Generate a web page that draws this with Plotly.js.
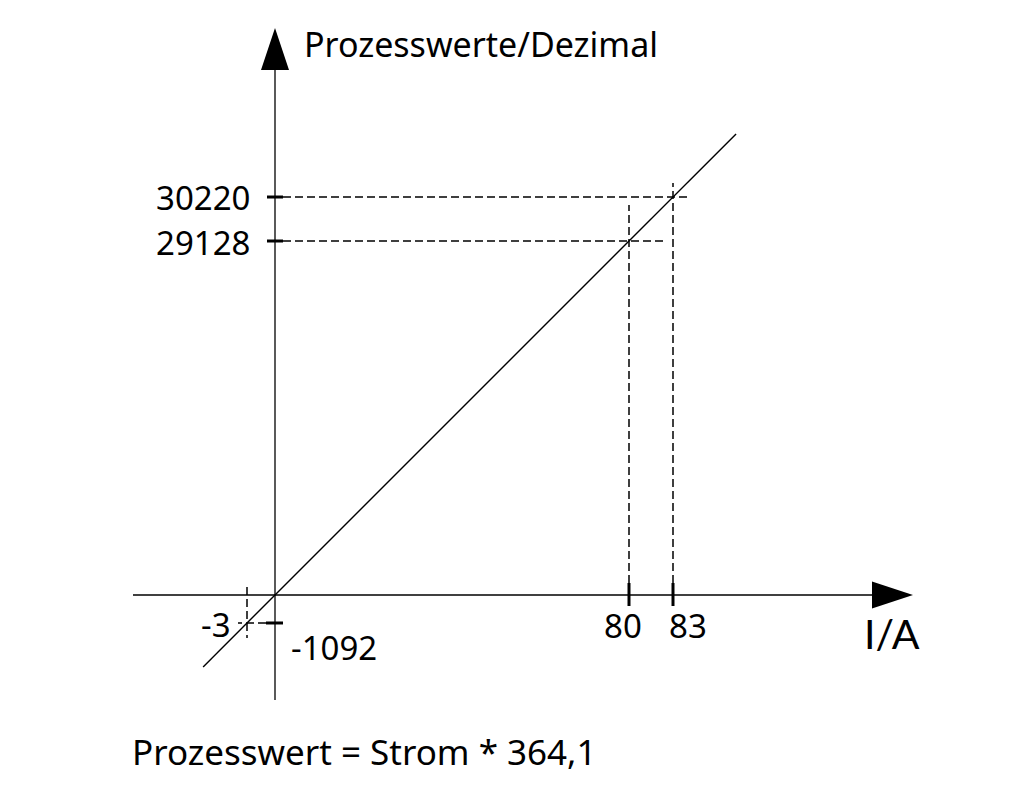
<!DOCTYPE html>
<html>
<head>
<meta charset="utf-8">
<script src="https://cdn.plot.ly/plotly-3.0.1.min.js"></script>
<style>
  html, body { margin: 0; padding: 0; background: #fff; }
  #chart { width: 1031px; height: 793px; }
</style>
</head>
<body>
<div id="chart"></div>
<script>
// ---- data ----
const strom = [-3, 80, 83];                 // current I in A
const prozesswert = [-1092, 29128, 30220];  // process values (decimal)
const faktor = 364.1;                       // Prozesswert = Strom * 364,1
const lineStrom = [-7.7, 87.3];             // extent of the drawn characteristic line (A)
const lineWert = [-2804, 31786];            // corresponding process values
const xTitle = 'I/A';
const yTitle = 'Prozesswerte/Dezimal';

// ---- schematic (not to scale) axis: piecewise linear, as in the original diagram ----
const scaleBreaks = [-3, 0, 80, 83];
const scaleUnits  = [-28, 0, 354, 398];
function S(a) {
  const b = scaleBreaks, u = scaleUnits, n = b.length;
  let i = 0;
  if (a <= b[0]) i = 0;
  else if (a >= b[n - 1]) i = n - 2;
  else { while (a > b[i + 1]) i++; }
  return u[i] + (a - b[i]) * (u[i + 1] - u[i]) / (b[i + 1] - b[i]);
}
const X = a => S(a);              // current -> diagram x
const Y = v => S(v / faktor);     // process value -> diagram y (same schematic scale)

const FONT = '"Noto Sans", "Open Sans", sans-serif';
const black = '#000';
const shapes = [];
const annotations = [];

// axes with arrows
shapes.push({type: 'line', xref: 'x', yref: 'y', x0: -142, x1: 598, y0: 0, y1: 0, line: {color: black, width: 1.3}});
shapes.push({type: 'path', xref: 'x', yref: 'y', path: 'M 597 13.5 L 638 0 L 597 -13.5 Z', fillcolor: black, line: {width: 0}});
shapes.push({type: 'line', xref: 'x', yref: 'y', x0: 0, x1: 0, y0: -105, y1: 526, line: {color: black, width: 1.3}});
shapes.push({type: 'path', xref: 'x', yref: 'y', path: 'M -14 525 L 0 567 L 14 525 Z', fillcolor: black, line: {width: 0}});

const dash = {color: black, width: 1.5, dash: '8px,4px'};
const tickLine = {color: black, width: 3};
const over = [0, 38, 14];   // how far dashed guides run past the crossing
strom.forEach((a, k) => {
  const xv = X(a), yv = Y(prozesswert[k]);
  if (a > 0) {
    shapes.push({type: 'line', xref: 'x', yref: 'y', x0: xv, x1: xv, y0: -11, y1: 12, line: tickLine});
    shapes.push({type: 'line', xref: 'x', yref: 'y', x0: -8, x1: 8, y0: yv, y1: yv, line: tickLine});
    shapes.push({type: 'line', xref: 'x', yref: 'y', x0: xv, x1: xv, y0: 12, y1: yv + over[k] - (k === 1 ? 2 : 0), line: dash});
    shapes.push({type: 'line', xref: 'x', yref: 'y', x0: 8, x1: xv + over[k], y0: yv, y1: yv, line: dash});
  } else {
    shapes.push({type: 'line', xref: 'x', yref: 'y', x0: -9, x1: 8, y0: yv, y1: yv, line: tickLine});
    shapes.push({type: 'line', xref: 'x', yref: 'y', x0: xv, x1: xv, y0: 8, y1: yv - 15, line: dash});
    shapes.push({type: 'line', xref: 'x', yref: 'y', x0: -9, x1: xv - 9, y0: yv, y1: yv, line: dash});
  }
});

const fmt = v => String(v);
const tf = {family: FONT, size: 33, color: black};
strom.forEach((a, k) => {
  const xv = X(a), yv = Y(prozesswert[k]);
  if (a > 0) {
    annotations.push({x: xv, y: 0, xref: 'x', yref: 'y', text: fmt(a), showarrow: false,
      xanchor: 'center', yanchor: 'middle', xshift: k === 1 ? -6 : 15, yshift: -30, font: tf});
    annotations.push({x: 0, y: yv, xref: 'x', yref: 'y', text: fmt(prozesswert[k]), showarrow: false,
      xanchor: 'right', yanchor: 'middle', xshift: -23, yshift: k === 2 ? 0 : -1, font: tf});
  } else {
    annotations.push({x: xv, y: yv, xref: 'x', yref: 'y', text: fmt(a), showarrow: false,
      xanchor: 'right', yanchor: 'middle', xshift: -14, yshift: -2, font: tf});
    annotations.push({x: 0, y: yv, xref: 'x', yref: 'y', text: fmt(prozesswert[k]), showarrow: false,
      xanchor: 'left', yanchor: 'middle', xshift: 14, yshift: -25, font: tf});
  }
});
annotations.push({x: 617, y: -38, xref: 'x', yref: 'y', text: xTitle, showarrow: false,
  xanchor: 'center', yanchor: 'middle', font: {family: 'Lato, "Open Sans", sans-serif', size: 41, color: black}});
annotations.push({x: 27, y: 551, xref: 'x', yref: 'y', text: yTitle, showarrow: false,
  xanchor: 'left', yanchor: 'middle', font: {family: FONT, size: 34, color: black}});
annotations.push({x: -145, y: -156, xref: 'x', yref: 'y',
  text: 'Prozesswert = Strom * ' + String(faktor).replace('.', ','), showarrow: false,
  xanchor: 'left', yanchor: 'middle', font: {family: FONT, size: 35, color: black}});

const traces = [{
  type: 'scatter', mode: 'lines',
  x: lineStrom.map(X), y: lineWert.map(Y),
  line: {color: black, width: 1.4},
  hoverinfo: 'skip', showlegend: false
}];

const layout = {
  width: 1031, height: 793,
  margin: {l: 0, r: 0, t: 0, b: 0},
  paper_bgcolor: '#fff', plot_bgcolor: '#fff',
  showlegend: false,
  xaxis: {range: [-275, 756], visible: false, fixedrange: true},
  yaxis: {range: [-198, 595], visible: false, fixedrange: true},
  shapes: shapes,
  annotations: annotations
};
Plotly.newPlot('chart', traces, layout, {staticPlot: true, displayModeBar: false});
</script>
</body>
</html>
